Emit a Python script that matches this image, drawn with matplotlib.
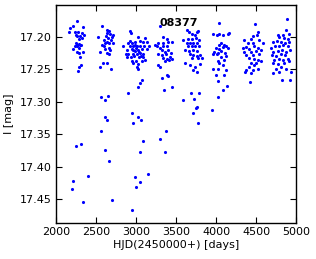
import numpy as np
import matplotlib
matplotlib.use('Agg')
import matplotlib.pyplot as plt

# observing seasons, HJD-2450000 and I magnitude
hjd_s1 = [2259, 2216, 2334, 2175, 2166, 2241, 2279, 2321, 2250, 2259, 2300, 2284, 2325, 2350,
          2209, 2259, 2284, 2300, 2266, 2291, 2341, 2259, 2284, 2300, 2313, 2291, 2275, 2234,
          2313, 2246, 2309, 2254, 2404, 2216, 2196, 2334]
mag_s1 = [17.176, 17.184, 17.185, 17.187, 17.193, 17.193, 17.193, 17.195, 17.197, 17.199, 17.199,
          17.204, 17.202, 17.198, 17.219, 17.213, 17.211, 17.212, 17.215, 17.217, 17.223, 17.223,
          17.225, 17.232, 17.244, 17.246, 17.253, 17.214, 17.213, 17.210, 17.365, 17.369, 17.414,
          17.4225, 17.434, 17.455]

hjd_s2 = [2579, 2529, 2641, 2659, 2634, 2675, 2716, 2625, 2654, 2696, 2600, 2641, 2684, 2616,
          2666, 2709, 2571, 2600, 2659, 2675, 2550, 2634, 2591, 2641, 2550, 2691, 2666, 2613,
          2559, 2654, 2613, 2616, 2638, 2566, 2609, 2663, 2704]
mag_s2 = [17.183, 17.200, 17.189, 17.191, 17.195, 17.196, 17.198, 17.199, 17.202, 17.200, 17.205,
          17.208, 17.205, 17.210, 17.210, 17.210, 17.213, 17.215, 17.217, 17.220, 17.223, 17.225,
          17.241, 17.240, 17.246, 17.250, 17.226, 17.219, 17.2928, 17.2908, 17.2978, 17.323,
          17.328, 17.3455, 17.3748, 17.3917, 17.4517]

hjd_s3 = [2925, 2941, 3021, 2841, 2904, 2946, 2988, 3050, 3091, 3134, 2925, 2966, 3009, 3050,
          3100, 2884, 2946, 2988, 3029, 3071, 3134, 2904, 2966, 3009, 3050, 3091, 2884, 2934,
          2979, 3041, 3084, 2946, 3000, 3071, 2959, 3029, 3009, 3021, 3113, 3163, 2871, 2960,
          3000, 3040, 2990, 3060, 2920, 3110,
          3075, 3054, 3025, 2904, 2946, 3029, 3066, 2966, 3084, 3050, 3150, 2991, 3046, 2996, 2954]
mag_s3 = [17.191, 17.195, 17.200, 17.214, 17.210, 17.209, 17.208, 17.206, 17.208, 17.208, 17.215,
          17.214, 17.215, 17.214, 17.215, 17.220, 17.219, 17.222, 17.220, 17.219, 17.219, 17.226,
          17.226, 17.227, 17.225, 17.226, 17.231, 17.232, 17.230, 17.231, 17.232, 17.237, 17.238,
          17.237, 17.240, 17.242, 17.246, 17.249, 17.236, 17.215, 17.226, 17.221, 17.218, 17.223,
          17.212, 17.229, 17.207, 17.202,
          17.2662, 17.2712, 17.2775, 17.2862, 17.3178, 17.324, 17.3282, 17.3328, 17.36, 17.3769,
          17.4117, 17.4158, 17.4231, 17.4317, 17.4677]

hjd_s4 = [3300, 3334, 3384, 3238, 3279, 3334, 3404, 3446, 3259, 3300, 3341, 3384, 3321, 3363,
          3404, 3434, 3279, 3321, 3375, 3425, 3341, 3384, 3446, 3363, 3416, 3279, 3300, 3384,
          3404, 3321, 3446, 3354, 3379, 3304, 3363]
mag_s4 = [17.184, 17.200, 17.204, 17.212, 17.210, 17.209, 17.208, 17.208, 17.215, 17.218, 17.215,
          17.215, 17.220, 17.223, 17.220, 17.225, 17.226, 17.228, 17.227, 17.231, 17.233, 17.235,
          17.235, 17.238, 17.236, 17.244, 17.246, 17.259, 17.260, 17.264, 17.2769, 17.2825,
          17.3451, 17.3569, 17.3769]

hjd_s5 = [3634, 3666, 3759, 3779, 3696, 3738, 3591, 3654, 3696, 3750, 3791, 3634, 3675, 3716,
          3759, 3654, 3696, 3738, 3791, 3613, 3666, 3716, 3766, 3675, 3716, 3759, 3800, 3696,
          3779, 3613, 3675, 3738, 3800, 3709, 3759, 3821,
          3691, 3791, 3725, 3591, 3763, 3746, 3716, 3779]
mag_s5 = [17.190, 17.192, 17.193, 17.191, 17.196, 17.197, 17.205, 17.204, 17.204, 17.202, 17.205,
          17.210, 17.209, 17.210, 17.209, 17.215, 17.214, 17.215, 17.214, 17.220, 17.222, 17.220,
          17.222, 17.226, 17.228, 17.230, 17.228, 17.233, 17.233, 17.241, 17.244, 17.246, 17.242,
          17.251, 17.255, 17.233,
          17.2871, 17.2871, 17.2954, 17.2974, 17.3082, 17.3102, 17.3169, 17.3328]

hjd_s6 = [4034, 3966, 4009, 4041, 4084, 4146, 4166, 4063, 4041, 4104, 4125, 4000, 4034, 4084,
          4146, 3979, 4021, 4063, 4116, 3959, 4009, 4063, 4125, 4021, 4104, 4041, 4084, 3959,
          4021, 4125, 4000, 4104, 4021, 4021, 4084, 4134, 3946]
mag_s6 = [17.179, 17.196, 17.197, 17.196, 17.197, 17.196, 17.195, 17.210, 17.213, 17.213, 17.214,
          17.218, 17.219, 17.216, 17.218, 17.223, 17.225, 17.222, 17.225, 17.226, 17.227, 17.231,
          17.230, 17.238, 17.236, 17.241, 17.244, 17.249, 17.250, 17.251, 17.259, 17.259, 17.268,
          17.293, 17.282, 17.276, 17.313]

hjd_s7 = [4488, 4521, 4466, 4509, 4354, 4438, 4534, 4396, 4459, 4584, 4334, 4375, 4416, 4479,
          4521, 4354, 4438, 4500, 4563, 4375, 4459, 4541, 4416, 4479, 4521, 4438, 4500, 4563,
          4416, 4479, 4375, 4459, 4521, 4438, 4366, 4425]
mag_s7 = [17.180, 17.192, 17.199, 17.197, 17.205, 17.204, 17.205, 17.210, 17.209, 17.210, 17.218,
          17.216, 17.219, 17.215, 17.218, 17.223, 17.223, 17.222, 17.220, 17.228, 17.228, 17.226,
          17.233, 17.235, 17.236, 17.241, 17.240, 17.238, 17.246, 17.244, 17.251, 17.251, 17.250,
          17.256, 17.254, 17.269]

hjd_s8 = [4884, 4875, 4834, 4909, 4771, 4791, 4854, 4896, 4709, 4759, 4813, 4866, 4916, 4688,
          4741, 4791, 4841, 4896, 4716, 4771, 4825, 4875, 4925, 4700, 4750, 4813, 4866, 4729,
          4784, 4834, 4896, 4709, 4771, 4854, 4916, 4750, 4813, 4875, 4791, 4716, 4938, 4821, 4925]
mag_s8 = [17.172, 17.189, 17.197, 17.196, 17.197, 17.201, 17.202, 17.204, 17.208, 17.206, 17.208,
          17.209, 17.208, 17.218, 17.215, 17.214, 17.213, 17.215, 17.223, 17.222, 17.220, 17.223,
          17.220, 17.228, 17.230, 17.227, 17.228, 17.236, 17.235, 17.236, 17.235, 17.241, 17.242,
          17.240, 17.238, 17.249, 17.246, 17.250, 17.254, 17.256, 17.254, 17.267, 17.267]

hjd = np.concatenate([hjd_s1, hjd_s2, hjd_s3, hjd_s4, hjd_s5, hjd_s6, hjd_s7, hjd_s8])
mag = np.concatenate([mag_s1, mag_s2, mag_s3, mag_s4, mag_s5, mag_s6, mag_s7, mag_s8])

star_id = '08377'
xticks = [2000, 2500, 3000, 3500, 4000, 4500, 5000]
yticks = [17.20, 17.25, 17.30, 17.35, 17.40, 17.45]

plt.rcParams['font.size'] = 8
plt.rcParams['xtick.direction'] = 'in'
plt.rcParams['ytick.direction'] = 'in'

fig = plt.figure(figsize=(3.16, 2.59), dpi=100)
ax = fig.add_axes([0.177, 0.139, 0.760, 0.842])
ax.plot(hjd, mag, '.', color='blue', markersize=4.5, markeredgewidth=0)

ax.set_xlim(2000, 5000)
ax.set_ylim(17.487, 17.151)
ax.set_xticks(xticks)
ax.set_yticks(yticks)
ax.set_yticklabels([f'{v:.2f}' for v in yticks])
ax.tick_params(top=True, right=True, length=4, width=0.8, pad=3)
for s in ax.spines.values():
    s.set_linewidth(1.0)

ax.text(3290, 17.1785, star_id, fontsize=8, fontweight='bold', va='center', ha='left')
ax.set_xlabel('HJD(2450000+) [days]', labelpad=2)
ax.set_ylabel('I [mag]', labelpad=4)

fig.savefig('out.png', dpi=100)
